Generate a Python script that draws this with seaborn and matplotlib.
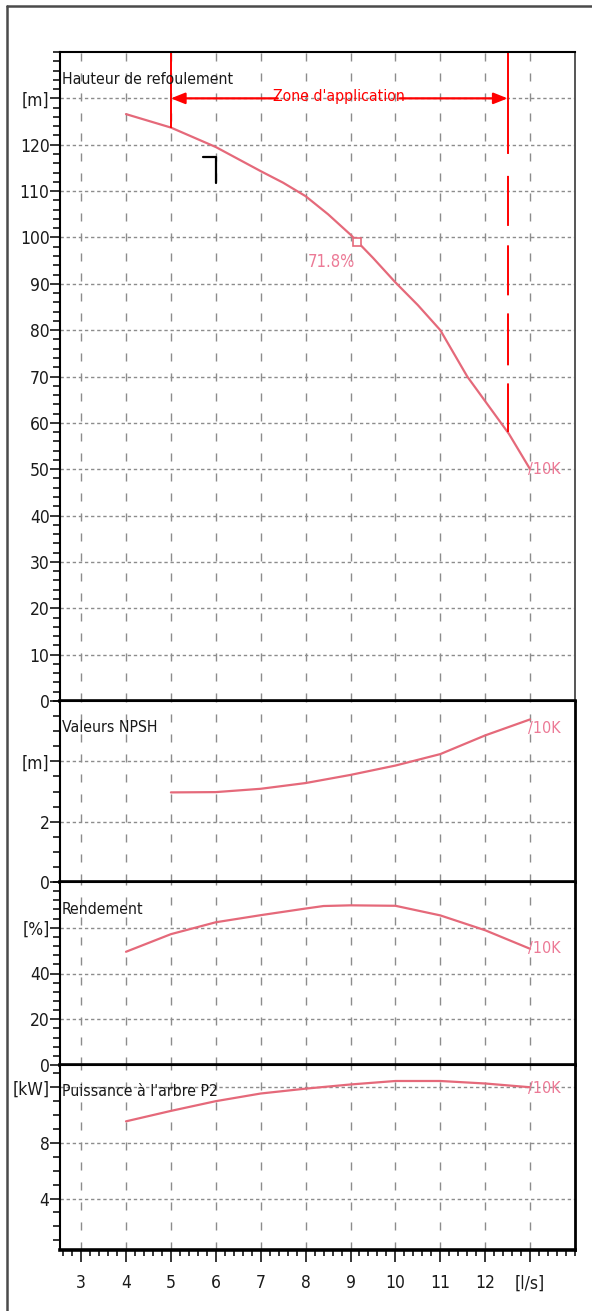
import numpy as np
import matplotlib.pyplot as plt
import seaborn as sns
from matplotlib import font_manager
from matplotlib.font_manager import FontProperties
from matplotlib.textpath import TextPath
from matplotlib.lines import Line2D
from matplotlib.ticker import MultipleLocator

# pump curve data (flow in l/s)
head_flow = [4, 5, 6, 7, 7.5, 8, 8.5, 9, 9.5, 10, 10.5, 11, 11.6, 12.35, 12.53, 13]
head = [126.6, 123.7, 119.5, 114.3, 111.8, 108.9, 105.0, 100.6, 95.6, 90.3, 85.4,
        80.0, 70.0, 60.0, 57.6, 50.0]
eff_flow = [4, 5, 6, 7, 8, 8.4, 9, 10, 11, 12, 13]
efficiency = [49.5, 57.2, 62.4, 65.5, 68.4, 69.5, 69.8, 69.6, 65.4, 58.9, 50.8]
power_flow = [4, 5, 6, 7, 8, 9, 10, 11, 12, 13]
power = [9.55, 10.3, 11.0, 11.55, 11.9, 12.2, 12.45, 12.45, 12.27, 12.0]
npsh_flow = [5, 6, 7, 8, 9, 10, 11, 12, 13]
npsh = [2.97, 2.98, 3.09, 3.28, 3.55, 3.86, 4.24, 4.86, 5.39]

bep_flow, bep_head, bep_label = 9.14, 99.0, '71.8%'
zone_start, zone_end = 5.0, 12.5
curve_name = '/10K'
corner_x = [5.71, 6.0, 6.0]
corner_y = [117.4, 117.4, 111.8]

x_ticks = [3, 4, 5, 6, 7, 8, 9, 10, 11, 12, 13]
x_labels = ['3', '4', '5', '6', '7', '8', '9', '10', '11', '12', '[l/s]']

sns.set_theme(style='white')

# the datasheet uses a narrow font; pick a condensed face if one is installed
family, stretch = 'Liberation Sans', 'normal'
preferred = ['Liberation Sans Narrow', 'DejaVu Sans', 'Noto Sans', 'Open Sans', 'Roboto']
cands = []
for f in font_manager.fontManager.ttflist:
    narrow = ('Narrow' in f.name or 'Condensed' in f.name
              or f.stretch in ('condensed', 'semi-condensed', 'extra-condensed'))
    if narrow and f.style == 'normal' and f.weight in (400, 'normal', 'regular'):
        rank = preferred.index(f.name) if f.name in preferred else len(preferred)
        cands.append((rank, f.name, f.stretch))
if cands:
    cands.sort()
    family, stretch = cands[0][1], cands[0][2]

plt.rcParams['font.family'] = [family, 'Liberation Sans', 'DejaVu Sans']
plt.rcParams['font.stretch'] = stretch
plt.rcParams['lines.scale_dashes'] = False

# size the text so the panel title is about as wide as on the datasheet
probe = TextPath((0, 0), 'Hauteur de refoulement', size=14,
                 prop=FontProperties(family=family, stretch=stretch))
w_px = probe.get_extents().width * 100 / 72
fs = float(np.clip(14 * 162 / w_px, 11, 15.5))

curve_col = '#e5697a'
label_col = '#ec7a96'
grid_col = '#8c8c8c'
text_col = '#1a1a1a'

fig, axes = plt.subplots(4, 1, figsize=(5.92, 13.11), sharex=True,
                         gridspec_kw={'height_ratios': [649, 181, 183, 185]})
fig.subplots_adjust(left=60/592, right=575/592, top=1-52/1311, bottom=1-1250/1311, hspace=0)
ax_h, ax_n, ax_e, ax_p = axes

panels = [
    (ax_h, head_flow, head, (0, 140), list(range(0, 140, 10)),
     [str(v) for v in range(0, 130, 10)] + ['[m]'], 2, 'Hauteur de refoulement', 0.0),
    (ax_n, npsh_flow, npsh, (0, 6), [0, 2, 4], ['0', '2', '[m]'], 0.5, 'Valeurs NPSH', -0.3),
    (ax_e, eff_flow, efficiency, (0, 80), [0, 20, 40, 60], ['0', '20', '40', '[%]'], 4,
     'Rendement', 0.0),
    (ax_p, power_flow, power, (0.3, 13.6), [4, 8, 12], ['4', '8', '[kW]'], 1,
     "Puissance à l'arbre P2", -0.1),
]

for ax, xs, ys, ylim, yt, yl, minor, title, lab_dy in panels:
    sns.lineplot(x=xs, y=ys, ax=ax, color=curve_col, linewidth=1.6)
    ax.set_xlim(2.53, 14.0)
    ax.set_ylim(*ylim)
    ax.set_yticks(yt)
    ax.set_yticklabels(yl)
    ax.yaxis.set_minor_locator(MultipleLocator(minor))
    ax.set_xticks(x_ticks)
    ax.xaxis.grid(True, color=grid_col, lw=1.0, linestyle=(0, (5.8, 8.6)))
    ax.yaxis.grid(True, color=grid_col, lw=1.0, linestyle=(0, (2.4, 2.0)))
    ax.tick_params(axis='y', which='major', left=True, direction='out', length=7,
                   width=1.1, pad=0.5, labelsize=fs + 1.5, labelcolor=text_col, color='black')
    ax.tick_params(axis='y', which='minor', left=True, direction='out', length=5,
                   width=1.1, color='black')
    ax.tick_params(axis='x', which='both', bottom=False, labelbottom=False)
    for side in ['left', 'top', 'right', 'bottom']:
        ax.spines[side].set_color('black')
        ax.spines[side].set_linewidth(1.5)
    ax.spines['bottom'].set_linewidth(2.6)
    ax.spines['right'].set_linewidth(2.0)
    ax.set_xlabel('')
    ax.set_ylabel('')
    ax.annotate(title, xy=(0, 1), xycoords='axes fraction', xytext=(2, -27),
                textcoords='offset pixels', ha='left', va='center', fontsize=fs + 0.3,
                color=text_col)
    ax.text(xs[-1] - 0.05, ys[-1] + lab_dy, curve_name, ha='left', va='center',
            fontsize=fs + 0.5, color=label_col)

ax_h.spines['right'].set_color('#555555')
ax_h.spines['right'].set_linewidth(1.4)

# bottom axis
ax_p.set_xticks(x_ticks)
ax_p.set_xticklabels(x_labels)
ax_p.xaxis.set_minor_locator(MultipleLocator(0.2))
ax_p.tick_params(axis='x', which='major', bottom=True, labelbottom=True, direction='out',
                 length=8.5, width=1.1, pad=9, labelsize=fs + 1.5, labelcolor=text_col,
                 color='black')
ax_p.tick_params(axis='x', which='minor', bottom=True, direction='out', length=4.5,
                 width=1.1, color='black')

# best efficiency point
ax_h.plot(bep_flow, bep_head, marker='s', ms=6, mfc='white', mec=curve_col, mew=1.2)
ax_h.text(bep_flow - 0.04, bep_head - 4.2, bep_label, ha='right', va='center',
          fontsize=fs + 1, color=label_col)
ax_h.plot(corner_x, corner_y, color='black', lw=1.6)

# application zone
zone_y = 130
h_start = np.interp(zone_start, head_flow, head)
h_end = np.interp(zone_end, head_flow, head)
ax_h.vlines(zone_start, h_start, 140, color='red', lw=1.4)
ax_h.plot([zone_end, zone_end], [140, h_end], color='red', lw=1.4,
          linestyle=(0, (73.4, 15.8, 36, 14, 36, 13, 37.4, 13, 36, 14)))
arrow = dict(arrowstyle='-|>,head_length=0.7,head_width=0.28', color='red', lw=1.6,
             shrinkA=0, shrinkB=0)
ax_h.annotate('', xy=(zone_start, zone_y), xytext=(7.38, zone_y), arrowprops=arrow)
ax_h.annotate('', xy=(zone_end, zone_y), xytext=(10.1, zone_y), arrowprops=arrow)
ax_h.text(8.74, zone_y + 0.4, "Zone d'application", ha='center', va='center',
          fontsize=fs + 0.3, color='red')

# window frame
fx = 7 / 592
fy = 1 - 6 / 1311
fig.add_artist(Line2D([fx, fx], [0, fy], transform=fig.transFigure, color='#4a4a4a', lw=1.8))
fig.add_artist(Line2D([fx, 1], [fy, fy], transform=fig.transFigure, color='#4a4a4a', lw=1.8))

fig.savefig('out.png', dpi=100)
